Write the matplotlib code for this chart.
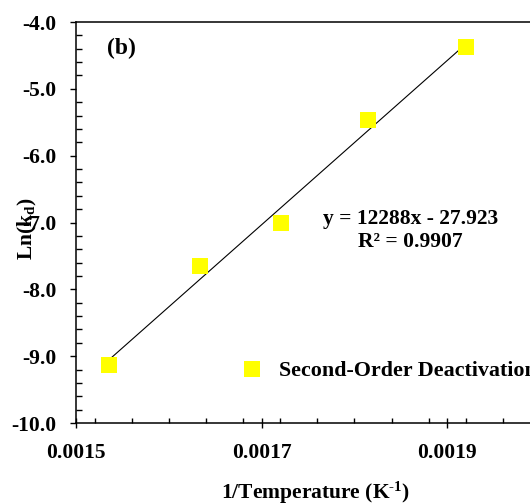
import numpy as np
import matplotlib
matplotlib.use("Agg")
import matplotlib.pyplot as plt
from matplotlib.ticker import FixedLocator, MultipleLocator, FormatStrFormatter

# values
inv_temp = [0.001536, 0.001634, 0.001721, 0.001815, 0.0019205]   # 1/T (K^-1)
ln_kd = [-9.13, -7.65, -7.01, -5.46, -4.37]

# trendline as printed on the chart
slope = 12288
intercept = -27.923
r_squared = 0.9907

series_label = "Second-Order Deactivation"
x_ticks = [0.0015, 0.0017, 0.0019]

plt.rcParams["font.family"] = ["Liberation Serif", "DejaVu Serif"]
plt.rcParams["font.weight"] = "bold"
plt.rcParams["font.size"] = 15.5
plt.rcParams["axes.unicode_minus"] = False
plt.rcParams["mathtext.fontset"] = "custom"
plt.rcParams["mathtext.rm"] = "Liberation Serif:bold"
plt.rcParams["mathtext.it"] = "Liberation Serif:bold"
plt.rcParams["mathtext.default"] = "rm"

fig = plt.figure(figsize=(5.30, 5.04), dpi=100)
ax = fig.add_axes([0.1434, 0.1607, 0.8755, 0.7956])

# trendline between the first and last point
x_fit = np.array([min(inv_temp), max(inv_temp)])
ax.plot(x_fit, slope * x_fit + intercept, color="black", linewidth=0.8, zorder=2)

ax.plot(inv_temp, ln_kd, linestyle="none", marker="s", markersize=11,
        color="#FFFF00", markeredgewidth=0, label=series_label, zorder=3)

ax.set_xlim(0.0015, 0.0020)
ax.set_ylim(-10.0, -4.0)

ax.xaxis.set_major_locator(FixedLocator(x_ticks))
ax.xaxis.set_minor_locator(MultipleLocator(0.00004))
ax.xaxis.set_major_formatter(FormatStrFormatter("%.4f"))
ax.yaxis.set_major_locator(MultipleLocator(1.0))
ax.yaxis.set_minor_locator(MultipleLocator(0.2))
ax.yaxis.set_major_formatter(FormatStrFormatter("%.1f"))

ax.tick_params(axis="x", which="major", direction="inout", length=7.2, width=1, pad=11)
ax.tick_params(axis="x", which="minor", direction="in", length=3.6, width=1)
ax.tick_params(axis="y", which="major", direction="out", length=4.3, width=1, pad=9.5)
ax.tick_params(axis="y", which="minor", direction="in", length=4, width=1)

for side in ["top", "left", "bottom", "right"]:
    ax.spines[side].set_linewidth(1.1)

ax.set_xlabel(r"1/Temperature (K$^{\text{-1}}$)", fontweight="bold")
ax.set_ylabel("Ln(k$_{d}$)", fontweight="bold")
ax.xaxis.set_label_coords(0.517, -0.142)
ax.yaxis.set_label_coords(-0.08, 0.484)

fig.text(107 / 530, 1 - 48 / 504, "(b)", ha="left", va="center", fontsize=17,
         fontweight="bold")

ax.text(0.72, 0.51, f"y = {slope}x - {abs(intercept)}", transform=ax.transAxes,
        ha="center", va="center", fontweight="bold")
ax.text(0.72, 0.452, f"R² = {r_squared}", transform=ax.transAxes,
        ha="center", va="center", fontweight="bold")

ax.legend(loc="center left", bbox_to_anchor=(241 / 530, 1 - 371 / 504),
          bbox_transform=fig.transFigure, frameon=False, borderpad=0,
          borderaxespad=0, handlelength=1.0, handletextpad=0.71,
          prop={"weight": "bold", "size": 15.8})

fig.savefig("out.png", dpi=100)
